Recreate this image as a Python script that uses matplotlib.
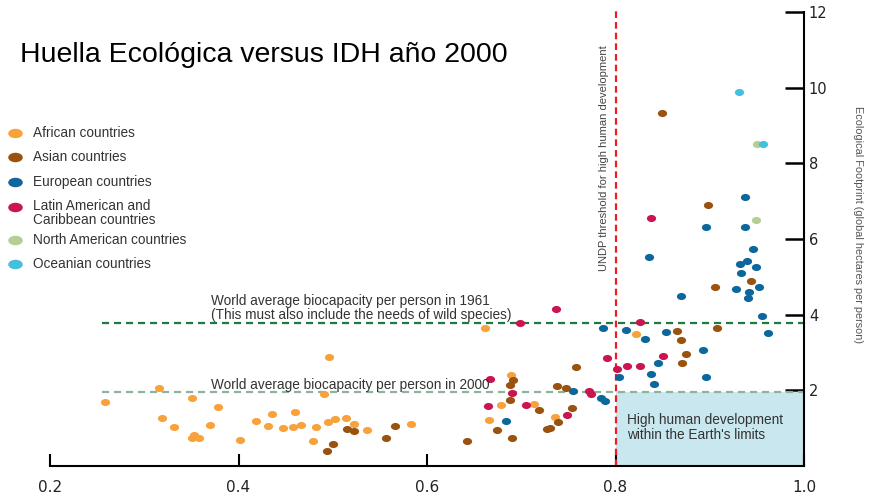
import matplotlib
matplotlib.use('Agg')
import matplotlib.pyplot as plt
from matplotlib.path import Path
from matplotlib.transforms import Affine2D
from matplotlib.patches import Rectangle

# Human Development Index (x) vs Ecological Footprint (y), year 2000
african_x = [0.258, 0.316, 0.351, 0.378, 0.319, 0.332, 0.370, 0.351, 0.353, 0.358, 0.402, 0.419,
             0.436, 0.431, 0.447, 0.460, 0.458, 0.466, 0.482, 0.479, 0.496, 0.491, 0.495, 0.502,
             0.514, 0.523, 0.536, 0.583, 0.662, 0.689, 0.679, 0.714, 0.736, 0.666, 0.822]
african_y = [1.69, 2.06, 1.79, 1.56, 1.26, 1.02, 1.08, 0.75, 0.82, 0.74, 0.69, 1.18,
             1.38, 1.05, 1.00, 1.42, 1.03, 1.09, 1.04, 0.65, 2.89, 1.90, 1.17, 1.24,
             1.27, 1.10, 0.95, 1.10, 3.64, 2.40, 1.61, 1.64, 1.30, 1.22, 3.49]

asian_x = [0.515, 0.523, 0.500, 0.494, 0.557, 0.566, 0.642, 0.758, 0.691, 0.688, 0.738, 0.748,
           0.688, 0.719, 0.754, 0.739, 0.727, 0.730, 0.674, 0.690, 0.865, 0.869, 0.908, 0.875,
           0.871, 0.849, 0.898, 0.906, 0.944]
asian_y = [0.98, 0.93, 0.57, 0.40, 0.75, 1.06, 0.66, 2.61, 2.26, 2.14, 2.11, 2.06,
           1.74, 1.47, 1.52, 1.16, 0.99, 1.01, 0.94, 0.73, 3.58, 3.34, 3.64, 2.96,
           2.71, 9.32, 6.90, 4.74, 4.89]

european_x = [0.684, 0.755, 0.785, 0.789, 0.787, 0.811, 0.831, 0.854, 0.845, 0.804, 0.838, 0.841,
              0.893, 0.896, 0.955, 0.962, 0.937, 0.896, 0.937, 0.836, 0.946, 0.932, 0.939, 0.949,
              0.933, 0.928, 0.952, 0.942, 0.941, 0.869]
european_y = [1.19, 1.97, 1.80, 1.73, 3.64, 3.59, 3.35, 3.55, 2.73, 2.34, 2.44, 2.16,
              3.07, 2.34, 3.97, 3.52, 7.12, 6.33, 6.32, 5.52, 5.73, 5.33, 5.41, 5.25,
              5.11, 4.68, 4.72, 4.59, 4.44, 4.50]

latin_x = [0.737, 0.699, 0.791, 0.802, 0.667, 0.690, 0.772, 0.774, 0.665, 0.705, 0.749, 0.826,
           0.812, 0.826, 0.850, 0.838]
latin_y = [4.15, 3.77, 2.86, 2.57, 2.30, 1.94, 1.98, 1.90, 1.58, 1.60, 1.34, 3.80,
           2.65, 2.65, 2.90, 6.56]

north_am_x = [0.950, 0.949]
north_am_y = [8.52, 6.50]

oceanian_x = [0.931, 0.956]
oceanian_y = [9.88, 8.51]

region_labels = ['African countries', 'Asian countries', 'European countries',
                 'Latin American and\nCaribbean countries', 'North American countries',
                 'Oceanian countries']
region_colors = ['#F8A23C', '#9A520F', '#0B679C', '#C9164F', '#B4CE94', '#45BFDD']

hdi_threshold = 0.8
biocap_1961 = 3.78
biocap_2000 = 1.95
x_ticks = [0.2, 0.4, 0.6, 0.8, 1.0]
y_ticks = [2, 4, 6, 8, 10, 12]

# slightly flattened dots, like the original
ell = Path.unit_circle().transformed(Affine2D().scale(1.0, 0.77))
ell_leg = Path.unit_circle().transformed(Affine2D().scale(1.0, 0.65))

fig = plt.figure(figsize=(8.69, 4.95), dpi=100)
ax = fig.add_axes([50 / 869, 29 / 495, 754 / 869, 454 / 495])
ax.patch.set_alpha(0)

ax.set_xlim(0.2, 1.0)
ax.set_ylim(0, 12)

# shaded zone: high development within the earth's limits
ax.add_patch(Rectangle((hdi_threshold, 0), 1.0 - hdi_threshold, biocap_2000,
                       facecolor='#C8E7EE', edgecolor='none', zorder=1))

ax.plot([0.255, 1.0], [biocap_1961, biocap_1961], color='#1F7A3F', lw=1.6,
        linestyle=(0, (3.2, 2.2)), zorder=2, clip_on=False)
ax.plot([0.255, 1.0], [biocap_2000, biocap_2000], color='#8DB39B', lw=1.6,
        linestyle=(0, (3.2, 2.2)), zorder=2, clip_on=False)
ax.plot([hdi_threshold, hdi_threshold], [0, 12.05], color='#EE1C24', lw=1.6,
        linestyle=(0, (3, 1.8)), zorder=2, clip_on=False)

groups = [(african_x, african_y), (asian_x, asian_y), (european_x, european_y),
          (latin_x, latin_y), (north_am_x, north_am_y), (oceanian_x, oceanian_y)]
for (gx, gy), col in zip(groups, region_colors):
    ax.scatter(gx, gy, s=44, marker=ell, color=col, linewidths=0, zorder=3, clip_on=False)

txt = '#333333'
ax.text(0.371, 4.18, 'World average biocapacity per person in 1961\n'
        '(This must also include the needs of wild species)',
        fontsize=9.8, color=txt, va='center', ha='left', linespacing=1.03,
        family='Liberation Sans')
ax.text(0.371, 2.14, 'World average biocapacity per person in 2000',
        fontsize=9.8, color=txt, va='center', ha='left', family='Liberation Sans')
ax.text(0.8125, 1.01, "High human development\nwithin the Earth's limits",
        fontsize=9.8, color=txt, va='center', ha='left', linespacing=1.07,
        family='Liberation Sans')
ax.text(0.7877, 8.13, 'UNDP threshold for high human development', rotation=90,
        fontsize=8, color='#444444', va='center', ha='center', family='Liberation Sans')
ax.text(1.0716, 0.533, 'Ecological Footprint (global hectares per person)',
        transform=ax.transAxes, rotation=270, fontsize=7.8, color='#555555',
        va='center', ha='center', family='Liberation Sans')

# axes: only bottom and right spines
ax.spines['left'].set_visible(False)
ax.spines['top'].set_visible(False)
ax.spines['bottom'].set_linewidth(1.5)
ax.spines['right'].set_linewidth(1.5)
ax.yaxis.tick_right()
ax.set_xticks(x_ticks)
ax.set_xticklabels(['%.1f' % v for v in x_ticks])
ax.set_yticks(y_ticks)
ax.tick_params(axis='x', direction='in', length=8.6, width=1.5, pad=10, labelsize=11,
               labelcolor='#222222')
ax.tick_params(axis='y', direction='in', length=13.7, width=1.8, pad=3.5, labelsize=10.5,
               labelcolor='#222222', right=True, left=False)

# overlay in pixel coordinates for title and legend
ov = fig.add_axes([0, 0, 1, 1])
ov.set_xlim(0, 869)
ov.set_ylim(495, 0)
ov.axis('off')

ov.text(20, 55, 'Huella Ecológica versus IDH año 2000', fontsize=20.5, color='black',
        va='center', ha='left', family='Liberation Sans')

legend_rows = [133, 157, 182, 207, 240, 264]
for lab, col, yy in zip(region_labels, region_colors, legend_rows):
    ov.scatter([15], [yy], s=110, marker=ell_leg, color=col, linewidths=0)
    ty = yy + 6 if '\n' in lab else yy
    ov.text(33, ty, lab, fontsize=9.8, color=txt, va='center', ha='left',
            linespacing=0.98, family='Liberation Sans')

fig.savefig('out.png', dpi=100)
